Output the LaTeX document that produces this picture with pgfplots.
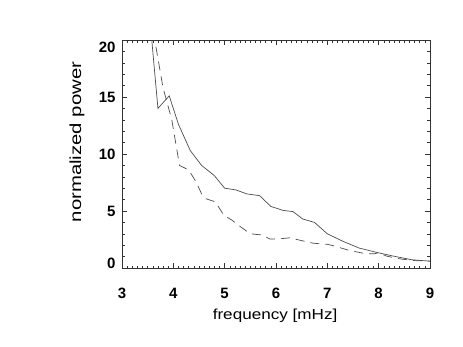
\documentclass[border=0pt]{standalone}
\usepackage{fontspec}
\setmainfont{Liberation Sans}
\usepackage{pgfplots}
\pgfplotsset{compat=1.18}
\begin{document}
\begin{tikzpicture}
\path[use as bounding box] (-122pt,-78pt) rectangle (341pt,268pt);
\begin{axis}[
  at={(0pt,0pt)}, anchor=south west,
  scale only axis, width=308pt, height=228pt,
  xmin=3, xmax=9, ymin=0, ymax=20,
  xtick={3,4,5,6,7,8,9}, xticklabels={3,4,5,6,7,8,9},
  ytick={0,5,10,15,20},
  yticklabels={\raisebox{5pt}[\height][0pt]{0},5,10,15,\raisebox{-7pt}[\height][0pt]{20}},
  minor x tick num=9, minor y tick num=4,
  tick align=inside, xtick pos=both, ytick pos=both,
  xticklabel pos=lower, yticklabel pos=left,
  major tick length=5pt, minor tick length=2.5pt,
  every tick/.style={black!80, line width=0.5pt},
  axis line style={black!80, line width=0.6pt},
  tick label style={font=\fontsize{15}{15}\selectfont\bfseries},
  xticklabel style={anchor=center, yshift=-25pt},
  yticklabel style={anchor=east, xshift=-3pt},
  xlabel={\scalebox{1.18}[1]{frequency [mHz]}},
  ylabel={\scalebox{1.27}[1]{normalized power}},
  xlabel style={at={(axis description cs:0.497,-0.21)}, anchor=center, font=\fontsize{14.5}{14.5}\selectfont},
  ylabel style={at={(axis description cs:-0.146,0.553)}, anchor=center, font=\fontsize{16}{16}\selectfont},
]
\addplot[black!70, line width=0.7pt] coordinates {
(3.55,21.5) (3.70,14.0) (3.92,15.1) (4.10,12.6) (4.33,10.3) (4.55,9.0)
(4.80,8.1) (5.00,7.0) (5.22,6.85) (5.43,6.5) (5.68,6.35) (5.90,5.4)
(6.14,5.05) (6.33,4.95) (6.52,4.3) (6.75,4.0) (7.00,3.0) (7.30,2.35)
(7.62,1.75) (7.95,1.38) (8.28,1.05) (8.65,0.72) (8.95,0.62) (9.00,0.6)
};
\addplot[black!70, line width=0.7pt, dash pattern=on 9pt off 6pt] coordinates {
(3.56,22) (3.80,15.8) (3.97,13.0) (4.12,9.0) (4.30,8.6) (4.45,7.5)
(4.55,6.5) (4.62,6.1) (4.82,5.8) (4.98,4.65) (5.14,4.2) (5.33,3.55)
(5.50,3.0) (5.72,2.9) (5.88,2.55) (6.05,2.55) (6.27,2.65) (6.50,2.4)
(6.73,2.17) (7.00,2.08) (7.12,1.95) (7.40,1.58) (7.55,1.43) (7.75,1.25)
(7.92,1.25) (8.00,1.35) (8.15,1.05) (8.35,0.85) (8.50,0.75) (8.70,0.65)
(9.00,0.6)
};
\end{axis}
\end{tikzpicture}
\end{document}
